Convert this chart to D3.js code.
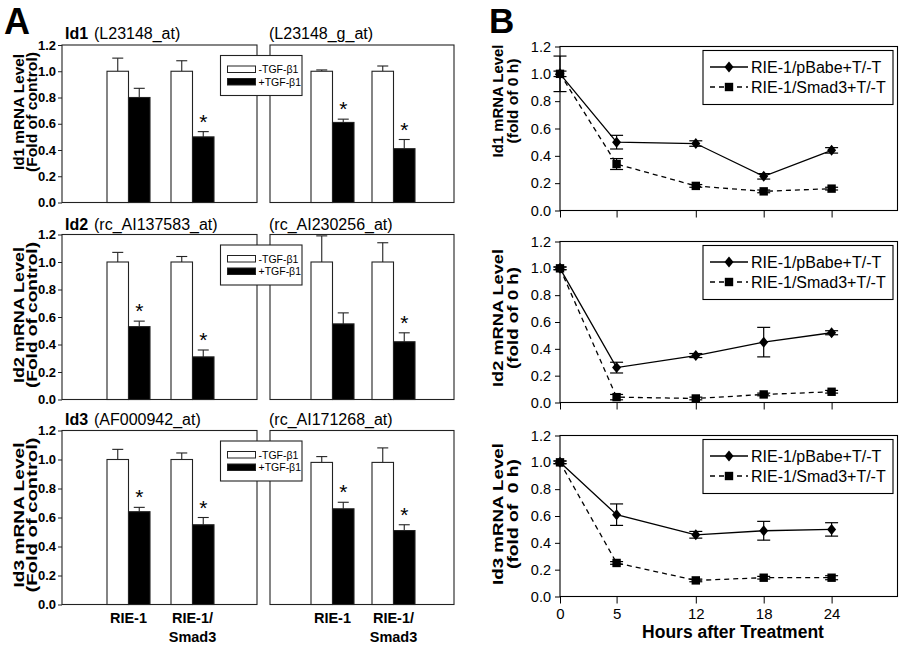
<!DOCTYPE html>
<html><head><meta charset="utf-8">
<script src="https://cdn.jsdelivr.net/npm/d3@7"></script>
<style>
body{margin:0;background:#fff;}
svg{display:block;font-family:"Liberation Sans",Arial,Helvetica,sans-serif;}
</style></head><body>
<svg id="chart" width="900" height="645"></svg>
<script>
// ================= DATA =================
const cellLines = ["RIE-1", "RIE-1/Smad3"];
const treatments = ["-TGF-\u03b21", "+TGF-\u03b21"];
const genes = ["Id1", "Id2", "Id3"];
const probesLeft = ["(L23148_at)", "(rc_AI137583_at)", "(AF000942_at)"];
const probesRight = ["(L23148_g_at)", "(rc_AI230256_at)", "(rc_AI171268_at)"];
const yTicks = [0, 0.2, 0.4, 0.6, 0.8, 1.0, 1.2];

// Panel A values, order [RIE-1, RIE-1/Smad3]
const id1LeftCtrl = [1.00, 1.00], id1LeftCtrlErr = [0.10, 0.08];
const id1LeftTgf = [0.80, 0.50], id1LeftTgfErr = [0.07, 0.04], id1LeftSig = [false, true];
const id1RightCtrl = [1.00, 1.00], id1RightCtrlErr = [0.01, 0.04];
const id1RightTgf = [0.61, 0.41], id1RightTgfErr = [0.025, 0.07], id1RightSig = [true, true];

const id2LeftCtrl = [1.00, 1.00], id2LeftCtrlErr = [0.07, 0.04];
const id2LeftTgf = [0.53, 0.31], id2LeftTgfErr = [0.04, 0.05], id2LeftSig = [true, true];
const id2RightCtrl = [1.00, 1.00], id2RightCtrlErr = [0.19, 0.14];
const id2RightTgf = [0.55, 0.42], id2RightTgfErr = [0.08, 0.065], id2RightSig = [false, true];

const id3LeftCtrl = [1.00, 1.00], id3LeftCtrlErr = [0.07, 0.045];
const id3LeftTgf = [0.64, 0.55], id3LeftTgfErr = [0.03, 0.05], id3LeftSig = [true, true];
const id3RightCtrl = [0.98, 0.98], id3RightCtrlErr = [0.04, 0.10];
const id3RightTgf = [0.66, 0.51], id3RightTgfErr = [0.045, 0.04], id3RightSig = [true, true];

// Panel B values
const hours = [0, 5, 12, 18, 24];
const seriesNames = ["RIE-1/pBabe+T/-T", "RIE-1/Smad3+T/-T"];
const yLabelsB = ["Id1 mRNA Level", "Id2 mRNA Level", "Id3 mRNA Level"];
const yLabels2B = ["(fold of 0 h)", "(fold of 0 h)", "(fold of  0 h)"];
const xTitleB = "Hours after Treatment";

const id1Pbabe = [1.00, 0.50, 0.49, 0.25, 0.44], id1PbabeErr = [0.13, 0.05, 0.02, 0.02, 0.02];
const id1Smad3 = [1.00, 0.34, 0.18, 0.14, 0.16], id1Smad3Err = [0.02, 0.04, 0.01, 0.01, 0.01];
const id2Pbabe = [1.00, 0.26, 0.35, 0.45, 0.52], id2PbabeErr = [0.01, 0.04, 0.015, 0.11, 0.015];
const id2Smad3 = [1.00, 0.04, 0.03, 0.06, 0.08], id2Smad3Err = [0.01, 0.02, 0.01, 0.01, 0.01];
const id3Pbabe = [1.00, 0.61, 0.46, 0.49, 0.50], id3PbabeErr = [0.01, 0.08, 0.025, 0.07, 0.05];
const id3Smad3 = [1.00, 0.25, 0.12, 0.14, 0.14], id3Smad3Err = [0.01, 0.01, 0.01, 0.01, 0.015];

// ================= BUILD TABLES =================
const barRows = [
  { left: {ctrl: id1LeftCtrl, ctrlErr: id1LeftCtrlErr, tgf: id1LeftTgf, tgfErr: id1LeftTgfErr, sig: id1LeftSig},
    right: {ctrl: id1RightCtrl, ctrlErr: id1RightCtrlErr, tgf: id1RightTgf, tgfErr: id1RightTgfErr, sig: id1RightSig} },
  { left: {ctrl: id2LeftCtrl, ctrlErr: id2LeftCtrlErr, tgf: id2LeftTgf, tgfErr: id2LeftTgfErr, sig: id2LeftSig},
    right: {ctrl: id2RightCtrl, ctrlErr: id2RightCtrlErr, tgf: id2RightTgf, tgfErr: id2RightTgfErr, sig: id2RightSig} },
  { left: {ctrl: id3LeftCtrl, ctrlErr: id3LeftCtrlErr, tgf: id3LeftTgf, tgfErr: id3LeftTgfErr, sig: id3LeftSig},
    right: {ctrl: id3RightCtrl, ctrlErr: id3RightCtrlErr, tgf: id3RightTgf, tgfErr: id3RightTgfErr, sig: id3RightSig} }
];
const lineRows = [
  [{name: seriesNames[0], v: id1Pbabe, e: id1PbabeErr}, {name: seriesNames[1], v: id1Smad3, e: id1Smad3Err}],
  [{name: seriesNames[0], v: id2Pbabe, e: id2PbabeErr}, {name: seriesNames[1], v: id2Smad3, e: id2Smad3Err}],
  [{name: seriesNames[0], v: id3Pbabe, e: id3PbabeErr}, {name: seriesNames[1], v: id3Smad3, e: id3Smad3Err}]
];

// ================= LAYOUT =================
const svg = d3.select("#chart");
const layoutA = [
  {top: 45, bottom: 202.5, title: 39, lab: 112, len1: 116, len2: 120},
  {top: 234.5, bottom: 399.5, title: 229.5, lab: 315, len1: 136, len2: 146},
  {top: 430.5, bottom: 604.5, title: 425, lab: 515, len1: 145, len2: 155}
];
const subPanels = [
  {x0: 62, x1: 257, band: [96.5, 224.5], titleX: 94},
  {x0: 270, x1: 454, band: [302, 424], titleX: 269}
];
const layoutB = [
  {top: 46.5, bottom: 210.5, lab: 101, len1: 113, len2: 85},
  {top: 241.5, bottom: 402.5, lab: 318, len1: 138, len2: 102},
  {top: 435.5, bottom: 596.5, lab: 514, len1: 142, len2: 110}
];
const barW = 21.5;
const edge = "#222";

// Panel letters
svg.append("text").attr("x", 4).attr("y", 34).attr("font-size", 36).attr("font-weight", "bold").text("A");
svg.append("text").attr("x", 489).attr("y", 33).attr("font-size", 35).attr("font-weight", "bold").text("B");

// ================= PANEL A =================
barRows.forEach((row, i) => {
  const L = layoutA[i];
  const y = d3.scaleLinear().domain([0, 1.2]).range([L.bottom, L.top]);
  const g = svg.append("g");

  // Y axis label (two lines)
  g.append("text").attr("transform", `translate(23.5,${L.lab}) rotate(-90)`)
    .attr("text-anchor", "middle").attr("font-size", 15.5).attr("font-weight", "bold")
    .attr("textLength", L.len1).attr("lengthAdjust", "spacingAndGlyphs")
    .text(genes[i] + " mRNA Level");
  g.append("text").attr("transform", `translate(36.5,${L.lab}) rotate(-90)`)
    .attr("text-anchor", "middle").attr("font-size", 15.5).attr("font-weight", "bold")
    .attr("textLength", L.len2).attr("lengthAdjust", "spacingAndGlyphs")
    .text("(Fold of control)");

  // titles
  const t = g.append("text").attr("x", 65).attr("y", L.title).attr("font-size", 16);
  t.append("tspan").attr("font-weight", "bold").text(genes[i]);
  t.append("tspan").attr("x", subPanels[0].titleX).text(probesLeft[i]);
  g.append("text").attr("x", subPanels[1].titleX).attr("y", L.title).attr("font-size", 16).text(probesRight[i]);

  // y axis
  const ax = g.append("g").attr("transform", `translate(${subPanels[0].x0},0)`)
    .call(d3.axisLeft(y).tickValues(yTicks).tickFormat(d3.format(".1f")).tickSize(4).tickPadding(2));
  ax.select(".domain").remove();
  ax.selectAll("line").attr("stroke", edge);
  ax.selectAll("text").attr("font-size", 13).attr("font-weight", "bold").attr("font-family", null).attr("fill", "#000");

  subPanels.forEach((p, j) => {
    const d = j === 0 ? row.left : row.right;
    const xo = d3.scaleBand().domain(cellLines).range(p.band);
    const xi = d3.scaleBand().domain(treatments).range([-barW, barW]);
    g.append("rect").attr("x", p.x0).attr("y", L.top).attr("width", p.x1 - p.x0)
      .attr("height", L.bottom - L.top).attr("fill", "none").attr("stroke", edge).attr("stroke-width", 1.1);

    const recs = [];
    cellLines.forEach((c, k) => {
      recs.push({c, t: treatments[0], v: d.ctrl[k], e: d.ctrlErr[k], s: false});
      recs.push({c, t: treatments[1], v: d.tgf[k], e: d.tgfErr[k], s: d.sig[k]});
    });
    const left = r => xo(r.c) + xo.bandwidth() / 2 + xi(r.t);
    const cx = r => left(r) + xi.bandwidth() / 2;

    // error bars
    g.selectAll(null).data(recs).enter().append("line")
      .attr("x1", cx).attr("x2", cx).attr("y1", r => y(r.v)).attr("y2", r => y(r.v + r.e))
      .attr("stroke", edge).attr("stroke-width", 1.1);
    g.selectAll(null).data(recs).enter().append("line")
      .attr("x1", r => cx(r) - 5.5).attr("x2", r => cx(r) + 5.5)
      .attr("y1", r => y(r.v + r.e)).attr("y2", r => y(r.v + r.e))
      .attr("stroke", edge).attr("stroke-width", 1.1);
    // bars
    g.selectAll(null).data(recs).enter().append("rect")
      .attr("x", left).attr("width", xi.bandwidth())
      .attr("y", r => y(r.v)).attr("height", r => y(0) - y(r.v))
      .attr("fill", r => r.t === treatments[0] ? "#fff" : "#000")
      .attr("stroke", edge).attr("stroke-width", 1.1);
    // significance
    g.selectAll(null).data(recs.filter(r => r.s)).enter().append("text")
      .attr("x", cx).attr("y", r => y(r.v + r.e) - 3)
      .attr("text-anchor", "middle").attr("font-size", 21).text("*");

    // x labels on last row
    if (i === 2) {
      cellLines.forEach(c => {
        const parts = c.split("/");
        const xc = xo(c) + xo.bandwidth() / 2;
        const tx = g.append("text").attr("text-anchor", "middle").attr("font-size", 14.5)
          .attr("font-weight", "bold").attr("x", xc).attr("y", 623);
        if (parts.length > 1) {
          tx.append("tspan").attr("x", xc).attr("y", 623).text(parts[0] + "/");
          tx.append("tspan").attr("x", xc).attr("y", 641.5).text(parts[1]);
        } else {
          tx.text(c);
        }
      });
    }
  });

  // legend
  const lx = 220.5, ly = L.top + 10.5;
  const lg = g.append("g").attr("transform", `translate(${lx},${ly})`);
  lg.append("rect").attr("width", 81.5).attr("height", 40).attr("fill", "#fff").attr("stroke", edge).attr("stroke-width", 1.1);
  treatments.forEach((tname, k) => {
    lg.append("rect").attr("x", 7).attr("y", 10.5 + k * 12.5).attr("width", 28).attr("height", 6.5)
      .attr("fill", k === 0 ? "#fff" : "#000").attr("stroke", edge).attr("stroke-width", 1);
    lg.append("text").attr("x", 38).attr("y", 17.5 + k * 12.5).attr("font-size", 10.5).text(tname);
  });
});

// ================= PANEL B =================
const diamond = "M0,-5.5L4.5,0L0,5.5L-4.5,0Z";
const square = "M-4.2,-4.2H4.2V4.2H-4.2Z";
lineRows.forEach((series, i) => {
  const L = layoutB[i];
  const x = d3.scaleLinear().domain([0, 30]).range([560, 899.5]);
  const y = d3.scaleLinear().domain([0, 1.2]).range([L.bottom, L.top]);
  const g = svg.append("g");

  // frame
  g.append("rect").attr("x", 560).attr("y", L.top).attr("width", 897.5 - 560).attr("height", L.bottom - L.top)
    .attr("fill", "none").attr("stroke", "#000").attr("stroke-width", 1.1);

  const ay = g.append("g").attr("transform", "translate(560,0)")
    .call(d3.axisLeft(y).tickValues(yTicks).tickFormat(d3.format(".1f")).tickSize(5).tickPadding(4));
  ay.select(".domain").remove();
  ay.selectAll("text").attr("font-size", 14.5).attr("font-family", null).attr("fill", "#000");

  const axb = g.append("g").attr("transform", `translate(0,${L.bottom})`)
    .call(d3.axisBottom(x).tickValues(hours).tickSize(7).tickPadding(5)
      .tickFormat(i === 2 ? d3.format("d") : () => ""));
  axb.select(".domain").remove();
  axb.selectAll("text").attr("font-size", 15).attr("font-family", null).attr("fill", "#000");

  // y labels
  g.append("text").attr("transform", `translate(503,${L.lab}) rotate(-90)`)
    .attr("text-anchor", "middle").attr("font-size", 15.5).attr("font-weight", "bold")
    .attr("textLength", L.len1).attr("lengthAdjust", "spacingAndGlyphs").text(yLabelsB[i]);
  g.append("text").attr("transform", `translate(518,${L.lab}) rotate(-90)`)
    .attr("text-anchor", "middle").attr("font-size", 15.5).attr("font-weight", "bold")
    .attr("textLength", L.len2).attr("lengthAdjust", "spacingAndGlyphs")
    .style("white-space", "pre").text(yLabels2B[i]);

  if (i === 2) {
    g.append("text").attr("x", 733).attr("y", 638).attr("text-anchor", "middle")
      .attr("font-size", 17.5).attr("font-weight", "bold").text(xTitleB);
  }

  // series: draw Smad3 first then pBabe
  [1, 0].forEach(k => {
    const s = series[k];
    const pts = hours.map((h, j) => ({h, v: s.v[j], e: s.e[j]}));
    g.append("path").datum(pts)
      .attr("d", d3.line().x(p => x(p.h)).y(p => y(p.v)))
      .attr("fill", "none").attr("stroke", "#000").attr("stroke-width", 1.3)
      .attr("stroke-dasharray", k === 1 ? "5,4" : null);
    pts.forEach(p => {
      const x0 = x(p.h), yt = y(p.v + p.e), yb = y(p.v - p.e);
      g.append("line").attr("x1", x0).attr("x2", x0).attr("y1", yt).attr("y2", yb).attr("stroke", "#000").attr("stroke-width", 1.2);
      g.append("line").attr("x1", x0 - 6.5).attr("x2", x0 + 6.5).attr("y1", yt).attr("y2", yt).attr("stroke", "#000").attr("stroke-width", 1.2);
      g.append("line").attr("x1", x0 - 6.5).attr("x2", x0 + 6.5).attr("y1", yb).attr("y2", yb).attr("stroke", "#000").attr("stroke-width", 1.2);
    });
    g.selectAll(null).data(pts).enter().append("path")
      .attr("transform", p => `translate(${x(p.h)},${y(p.v)})`)
      .attr("d", k === 0 ? diamond : square).attr("fill", "#000");
  });

  // legend
  const lg = g.append("g").attr("transform", `translate(703,${L.top + 4})`);
  lg.append("rect").attr("width", 190).attr("height", 54).attr("fill", "#fff").attr("stroke", "#000").attr("stroke-width", 1.1);
  series.forEach((s, k) => {
    const yy = 16.5 + k * 20;
    lg.append("line").attr("x1", 7).attr("x2", 45).attr("y1", yy).attr("y2", yy)
      .attr("stroke", "#000").attr("stroke-width", 1.3).attr("stroke-dasharray", k === 1 ? "5,4" : null);
    lg.append("path").attr("transform", `translate(26,${yy})`).attr("d", k === 0 ? diamond : square).attr("fill", "#000");
    lg.append("text").attr("x", 48).attr("y", yy + 5.5).attr("font-size", 16).text(s.name);
  });
});
</script>
</body></html>
